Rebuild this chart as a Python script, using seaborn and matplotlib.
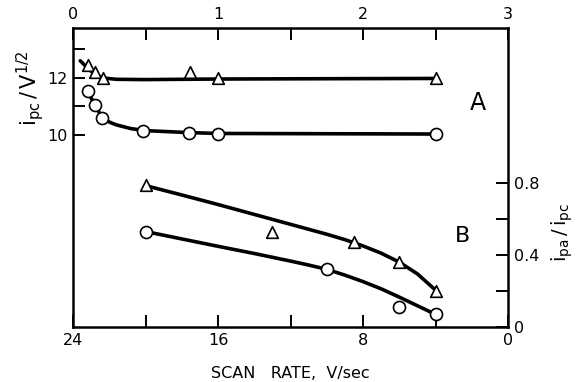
import matplotlib
matplotlib.use("Agg")
import matplotlib.pyplot as plt
import seaborn as sns

# Panel A (top axis 0-3, left axis i_pc / V^1/2)
a_tri_x = [0.1, 0.15, 0.21, 0.81, 1.0, 2.5]
a_tri_y = [12.45, 12.2, 12.0, 12.2, 12.0, 12.0]
a_tri_fit_x = [0.05, 0.1, 0.15, 0.2, 0.3, 0.5, 1.0, 1.7, 2.5]
a_tri_fit_y = [12.6, 12.35, 12.12, 12.0, 11.95, 11.94, 11.96, 11.97, 11.98]

a_cir_x = [0.1, 0.15, 0.2, 0.48, 0.8, 1.0, 2.5]
a_cir_y = [11.55, 11.05, 10.58, 10.14, 10.07, 10.04, 10.03]
a_cir_fit_x = [0.1, 0.15, 0.2, 0.25, 0.3, 0.4, 0.5, 0.8, 1.0, 2.5]
a_cir_fit_y = [11.55, 11.05, 10.62, 10.45, 10.35, 10.22, 10.15, 10.08, 10.05, 10.03]

# Panel B (bottom axis scan rate 24-0, right axis i_pa / i_pc)
b_tri_x = [20, 13, 8.5, 6, 4]
b_tri_y = [0.79, 0.53, 0.47, 0.36, 0.2]
b_tri_fit_x = [20, 18, 16, 14, 12, 10, 9, 8, 7, 6, 5, 4]
b_tri_fit_y = [0.785, 0.733, 0.68, 0.625, 0.57, 0.515, 0.485, 0.45, 0.41, 0.36, 0.295, 0.205]

b_cir_x = [20, 10, 6, 4]
b_cir_y = [0.53, 0.32, 0.11, 0.07]
b_cir_fit_x = [20, 16, 14, 12, 11, 10, 9, 8, 7, 6, 5, 4]
b_cir_fit_y = [0.53, 0.448, 0.408, 0.366, 0.344, 0.32, 0.288, 0.252, 0.212, 0.166, 0.118, 0.07]

sns.set_style("ticks")
plt.rcParams["font.family"] = ["DejaVu Sans"]
plt.rcParams["text.color"] = "black"

fig = plt.figure(figsize=(5.78, 3.82), dpi=100)
rect = [0.1263, 0.144, 0.7526, 0.7827]
ax_b = fig.add_axes(rect)
ax_a = fig.add_axes(rect, facecolor="none")

line_kw = dict(color="black", linewidth=2.6, estimator=None, sort=False, legend=False)
mk_kw = dict(facecolor="white", edgecolor="black", linewidth=1.2, zorder=5, legend=False)

# Panel A
sns.lineplot(x=a_tri_fit_x, y=a_tri_fit_y, ax=ax_a, **line_kw)
sns.lineplot(x=a_cir_fit_x, y=a_cir_fit_y, ax=ax_a, **line_kw)
sns.scatterplot(x=a_tri_x, y=a_tri_y, marker="^", s=70, ax=ax_a, **mk_kw)
sns.scatterplot(x=a_cir_x, y=a_cir_y, marker="o", s=75, ax=ax_a, **mk_kw)

# Panel B
sns.lineplot(x=b_tri_fit_x, y=b_tri_fit_y, ax=ax_b, **line_kw)
sns.lineplot(x=b_cir_fit_x, y=b_cir_fit_y, ax=ax_b, **line_kw)
sns.scatterplot(x=b_tri_x, y=b_tri_y, marker="^", s=70, ax=ax_b, **mk_kw)
sns.scatterplot(x=b_cir_x, y=b_cir_y, marker="o", s=75, ax=ax_b, **mk_kw)

ax_a.set_xlim(0, 3)
ax_a.set_ylim(3.26, 13.75)
ax_b.set_xlim(24, 0)
ax_b.set_ylim(0, 1.66)

ax_a.xaxis.tick_top()
ax_a.set_xticks([0, 0.5, 1, 1.5, 2, 2.5, 3])
ax_a.set_xticklabels(["0", "", "1", "", "2", "", "3"])
ax_a.set_yticks([10, 11, 12, 13])
ax_a.set_yticklabels(["10", "", "12", ""])

ax_b.yaxis.tick_right()
ax_b.set_xticks([24, 20, 16, 12, 8, 4, 0])
ax_b.set_xticklabels(["24", "", "16", "", "8", "", "0"])
ax_b.set_yticks([0, 0.2, 0.4, 0.6, 0.8])
ax_b.set_yticklabels(["0", "", "0.4", "", "0.8"])

for ax in (ax_a, ax_b):
    ax.tick_params(direction="in", length=8.5, width=1.4, labelsize=11.5,
                   pad=4, color="black", labelcolor="black")
    ax.set_xlabel("")
    ax.set_ylabel("")
for s in ax_a.spines.values():
    s.set_visible(False)
for s in ax_b.spines.values():
    s.set_visible(True)
    s.set_linewidth(1.8)
    s.set_color("black")

fig.text(30 / 578, 1 - 88 / 382, r"$\mathregular{i_{pc}\,/\,V^{1/2}}$",
         rotation=90, ha="center", va="center", fontsize=15)
fig.text(562 / 578, 1 - 233 / 382, r"$\mathregular{i_{pa}\,/\,i_{pc}}$",
         rotation=90, ha="center", va="center", fontsize=14)
fig.text(290 / 578, 1 - 374 / 382, "SCAN   RATE,  V/sec",
         ha="center", va="center", fontsize=11.5)
fig.text(478 / 578, 1 - 103 / 382, "A", ha="center", va="center", fontsize=17)
fig.text(463 / 578, 1 - 236 / 382, "B", ha="center", va="center", fontsize=16)

fig.savefig("out.png", dpi=100, facecolor="white")
